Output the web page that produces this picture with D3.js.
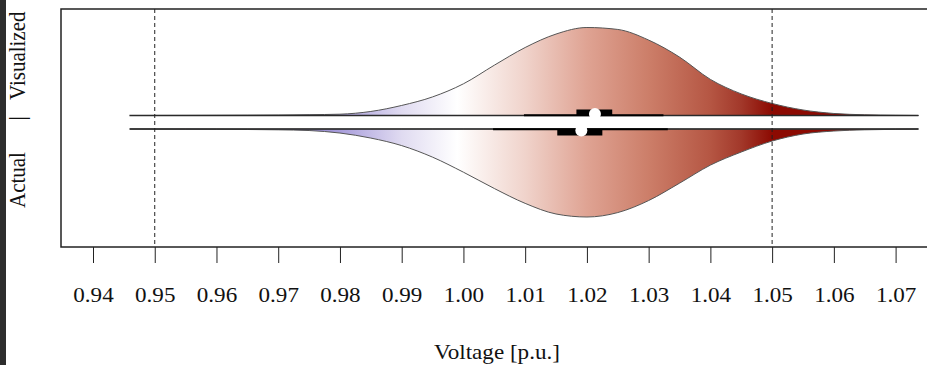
<!doctype html>
<html>
<head>
<meta charset="utf-8">
<script src="https://d3js.org/d3.v7.min.js"></script>
<style>
  html, body { margin: 0; padding: 0; background: #fff; }
  svg { display: block; }
  text { font-family: "Liberation Serif", "Times New Roman", Times, serif; fill: #111; }
</style>
</head>
<body>
<svg id="chart" width="927" height="365"></svg>
<script>

// voltage grid the densities were read at
var voltGrid = [0.946, 0.950, 0.955, 0.960, 0.965, 0.970, 0.975, 0.980, 0.985, 0.990,
                0.995, 1.000, 1.005, 1.010, 1.015, 1.020, 1.025, 1.030, 1.035, 1.040,
                1.045, 1.050, 1.055, 1.060, 1.065, 1.070, 1.0737];

// upper half: visualized voltage density
var densVisualized = [0, 0.01, 0.03, 0.06, 0.09, 0.14, 0.23, 0.37, 1.14, 2.84,
                      5.25, 8.95, 14.2, 19.2, 23.0, 24.85, 24.3, 21.3, 16.5, 10.2,
                      6.1, 3.4, 1.56, 0.57, 0.2, 0.06, 0];

// lower half: actual voltage density
var densActual = [0, 0.03, 0.04, 0.09, 0.14, 0.23, 0.43, 1.14, 2.56, 4.69,
                  7.95, 12.2, 16.8, 21.0, 24.0, 24.85, 23.6, 20.2, 15.3, 10.2,
                  6.5, 3.4, 1.42, 0.57, 0.23, 0.09, 0];

// box stats: [min, lower whisker, q1, median, q3, upper whisker, max]
var statsVisualized = [0.9459, 1.0098, 1.0183, 1.0213, 1.0241, 1.0324, 1.0737];
var statsActual     = [0.9459, 1.0048, 1.0152, 1.0191, 1.0225, 1.0331, 1.0737];

var tickValues = [0.94, 0.95, 0.96, 0.97, 0.98, 0.99, 1.00, 1.01, 1.02, 1.03, 1.04, 1.05, 1.06, 1.07];
var limitLines = [0.95, 1.05];

var svg = d3.select("#chart");

var plotLeft = 61, plotTop = 9, plotBottom = 247, plotRight = 935;
var baseTop = 115.5, baseBot = 129;

var x = d3.scaleLinear().domain([0.94, 1.07]).range([93, 895.6]);
var h = d3.scaleLinear().domain([0, 24.85]).range([0, 88]);

// left dark strip from the screenshot
svg.append("rect")
    .attr("x", 0).attr("y", 0)
    .attr("width", 6).attr("height", 365)
    .attr("fill", "#2d2d2d");

// colour gradient along voltage
var defs = svg.append("defs");
var grad = defs.append("linearGradient")
    .attr("id", "vgrad")
    .attr("gradientUnits", "userSpaceOnUse")
    .attr("x1", x(0.95)).attr("x2", x(1.05))
    .attr("y1", 0).attr("y2", 0);
var stops = [
    [0.95, "#4a3aa8"], [0.97, "#8376cc"], [0.98, "#a89ddb"], [0.99, "#e0dbf1"],
    [0.999, "#ffffff"], [1.01, "#f0d3cb"], [1.02, "#dfa393"], [1.03, "#cc7e69"],
    [1.04, "#b55643"], [1.045, "#a2382a"], [1.05, "#8c0a02"]
];
grad.selectAll("stop")
    .data(stops)
    .enter().append("stop")
    .attr("offset", function (d) { return (x(d[0]) - x(0.95)) / (x(1.05) - x(0.95)); })
    .attr("stop-color", function (d) { return d[1]; });

var topData = voltGrid.map(function (v, i) { return { v: v, d: densVisualized[i] }; });
var botData = voltGrid.map(function (v, i) { return { v: v, d: densActual[i] }; });

var areaTop = d3.area()
    .curve(d3.curveMonotoneX)
    .x(function (d) { return x(d.v); })
    .y0(baseTop)
    .y1(function (d) { return baseTop - h(d.d); });

var areaBot = d3.area()
    .curve(d3.curveMonotoneX)
    .x(function (d) { return x(d.v); })
    .y0(baseBot)
    .y1(function (d) { return baseBot + h(d.d); });

svg.append("path")
    .datum(topData)
    .attr("d", areaTop)
    .attr("fill", "url(#vgrad)")
    .attr("stroke", "#555")
    .attr("stroke-width", 1);

svg.append("path")
    .datum(botData)
    .attr("d", areaBot)
    .attr("fill", "url(#vgrad)")
    .attr("stroke", "#555")
    .attr("stroke-width", 1);

// range lines, whiskers, boxes, medians
function drawBox(s, base, dir) {
    svg.append("line")
        .attr("x1", x(s[0])).attr("x2", x(s[6]))
        .attr("y1", base).attr("y2", base)
        .attr("stroke", "#2a2a2a").attr("stroke-width", 1.5);
    svg.append("line")
        .attr("x1", x(s[1])).attr("x2", x(s[5]))
        .attr("y1", base + dir * 0.3).attr("y2", base + dir * 0.3)
        .attr("stroke", "#000").attr("stroke-width", 1.9);
    svg.append("rect")
        .attr("x", x(s[2]))
        .attr("width", x(s[4]) - x(s[2]))
        .attr("y", dir < 0 ? base - 6 : base)
        .attr("height", 6.5)
        .attr("fill", "#000");
    svg.append("circle")
        .attr("cx", x(s[3]))
        .attr("cy", base + dir * 1.5)
        .attr("r", 6)
        .attr("fill", "#fff");
}
drawBox(statsVisualized, baseTop, -1);
drawBox(statsActual, baseBot, 1);

// dashed limits
svg.selectAll(".limit")
    .data(limitLines)
    .enter().append("line")
    .attr("class", "limit")
    .attr("x1", function (d) { return x(d); })
    .attr("x2", function (d) { return x(d); })
    .attr("y1", plotTop).attr("y2", plotBottom)
    .attr("stroke", "#222")
    .attr("stroke-width", 1)
    .attr("stroke-dasharray", "4,3");

// plot frame
svg.append("rect")
    .attr("x", plotLeft).attr("y", plotTop)
    .attr("width", plotRight - plotLeft).attr("height", plotBottom - plotTop)
    .attr("fill", "none")
    .attr("stroke", "#222")
    .attr("stroke-width", 1.5);

// x axis
var xAxis = d3.axisBottom(x)
    .tickValues(tickValues)
    .tickSize(16)
    .tickPadding(24)
    .tickFormat(d3.format(".2f"));

var gx = svg.append("g")
    .attr("transform", "translate(0," + plotBottom + ")")
    .call(xAxis);
gx.select(".domain").remove();
gx.selectAll(".tick line").attr("stroke", "#222").attr("stroke-width", 1);
gx.selectAll(".tick text")
    .attr("font-size", 21)
    .attr("font-family", "Liberation Serif")
    .attr("fill", "#111")
    .attr("transform", "scale(1.1,1)");

svg.append("text")
    .attr("transform", "translate(497,359) scale(1.1,1)")
    .attr("text-anchor", "middle")
    .attr("font-size", 21)
    .text("Voltage [p.u.]");

// y label pieces
svg.append("text")
    .attr("transform", "translate(25,208) scale(1.1,1) rotate(-90)")
    .attr("font-size", 21)
    .text("Actual");
svg.append("text")
    .attr("transform", "translate(25,118.5) scale(1.1,1) rotate(-90)")
    .attr("text-anchor", "middle")
    .attr("font-size", 21)
    .text("|");
svg.append("text")
    .attr("transform", "translate(25,100) scale(1.1,1) rotate(-90)")
    .attr("font-size", 21)
    .text("Visualized");

</script>
</body>
</html>
